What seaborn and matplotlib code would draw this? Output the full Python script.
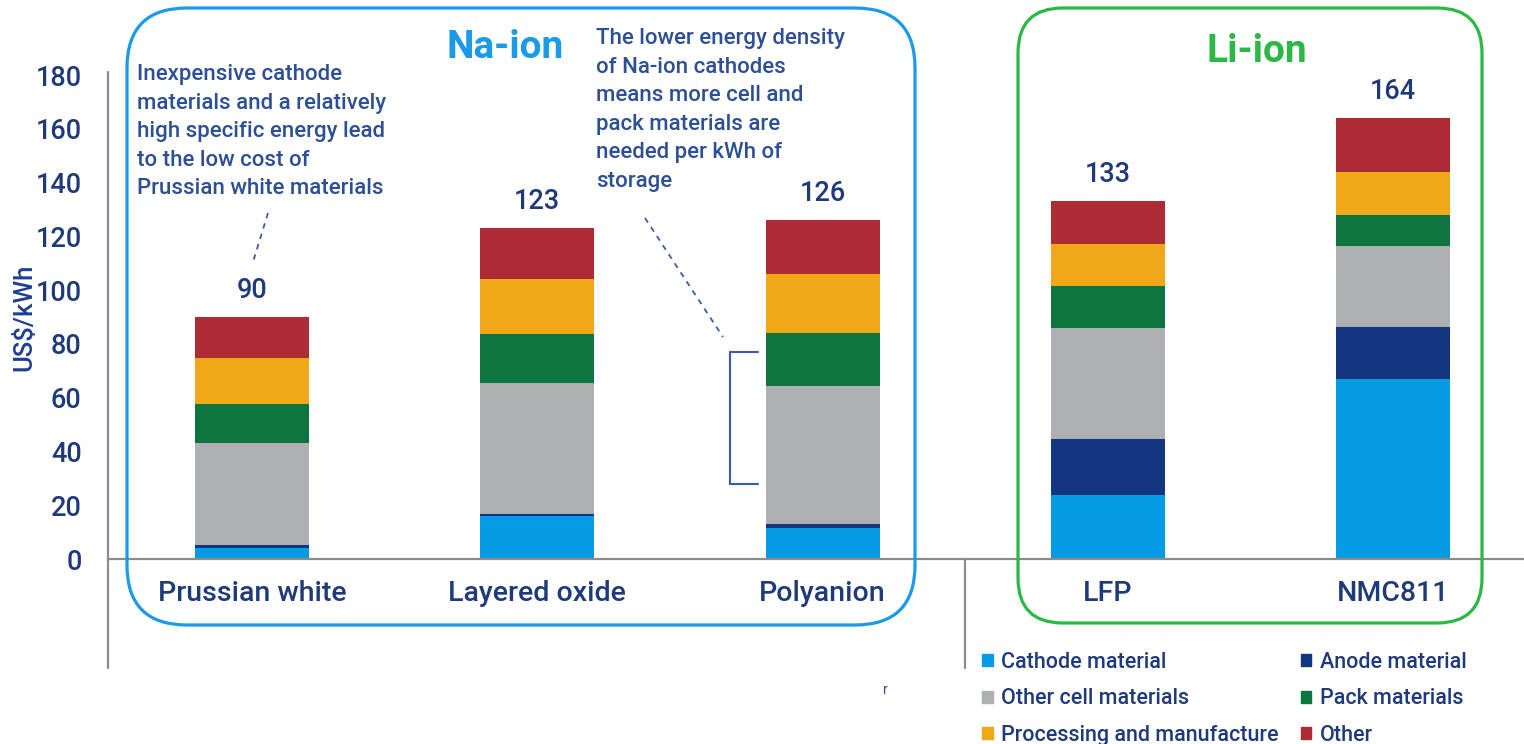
import matplotlib
matplotlib.use('Agg')
import matplotlib.pyplot as plt
from matplotlib.patches import FancyBboxPatch, Patch
from matplotlib.lines import Line2D

import numpy as np
import pandas as pd
import seaborn as sns

# cost breakdown in US$/kWh
chemistries = ['Prussian white', 'Layered oxide', 'Polyanion', 'LFP', 'NMC811']
components = ['Cathode material', 'Anode material', 'Other cell materials',
              'Pack materials', 'Processing and manufacture', 'Other']
cathode = [4.0, 16.0, 11.5, 23.8, 66.9]
anode = [1.2, 0.7, 1.5, 20.8, 19.3]
other_cell = [37.8, 48.8, 51.3, 41.4, 30.3]
pack = [14.6, 18.2, 19.9, 15.5, 11.4]
processing = [17.3, 20.4, 21.8, 15.6, 15.9]
other = [15.1, 18.9, 20.0, 15.9, 20.2]
totals = [90, 123, 126, 133, 164]
yticks = list(range(0, 181, 20))

note_pw = ['Inexpensive cathode', 'materials and a relatively',
           'high specific energy lead', 'to the low cost of',
           'Prussian white materials']
note_na = ['The lower energy density', 'of Na-ion cathodes',
           'means more cell and', 'pack materials are',
           'needed per kWh of', 'storage']

colors = ['#069be5', '#12357f', '#adafb2', '#0f7540', '#f0a718', '#ad2b34']

TXT = '#1f3a7a'
NOTE = '#2d4f96'
NA_BLUE = '#1a9ae8'
LI_GREEN = '#2cb845'
GREY = '#8c8c8c'

W, H, DPI = 1524, 744, 100


def px(x, y):
    """pixel (top-left origin) -> inches for dpi_scale_trans"""
    return x / DPI, (H - y) / DPI


def fig_line(fig, x0, y0, x1, y1, **kw):
    a, b = px(x0, y0)
    c, d = px(x1, y1)
    fig.add_artist(Line2D([a, c], [b, d], transform=fig.dpi_scale_trans, **kw))


def fig_text(fig, x, y, s, **kw):
    a, b = px(x, y)
    fig.text(a, b, s, transform=fig.dpi_scale_trans, **kw)


def note(fig, x, y, lines, step=28.6):
    # one text per line so each line keeps its own extent
    for k, line in enumerate(lines):
        fig_text(fig, x, y + k * step, line, ha='left', va='top', fontsize=16,
                 color=NOTE, fontweight='medium')


def round_box(fig, x0, y0, x1, y1, r, color):
    a, b = px(x0, y1)
    box = FancyBboxPatch((a, b), (x1 - x0) / DPI, (y1 - y0) / DPI,
                         boxstyle='round,pad=0,rounding_size={}'.format(r / DPI),
                         transform=fig.dpi_scale_trans, fill=False,
                         edgecolor=color, linewidth=2.3, zorder=5)
    fig.add_artist(box)


def main():
    sns.set_style('white')
    plt.rcParams['font.family'] = ['Roboto', 'DejaVu Sans']

    fig = plt.figure(figsize=(W / DPI, H / DPI), dpi=DPI)
    ax = fig.add_axes([108 / W, 1 - 559 / H, 1 - 108 / W, (559 - 75) / H])

    # stacked bars, one seaborn call per cost component
    series = [cathode, anode, other_cell, pack, processing, other]
    bottom = np.zeros(len(chemistries))
    for name, vals, col in zip(components, series, colors):
        sns.barplot(x=chemistries, y=vals, bottom=bottom, color=col, width=0.4,
                    saturation=1, label=name, linewidth=0, edgecolor='none', ax=ax)
        bottom = bottom + np.array(vals)

    # totals above the bars
    for i, t in enumerate(totals):
        ax.text(i, t + 10.0, str(t), ha='center', va='center', fontsize=19.5,
                color=TXT, fontweight='medium')

    ax.set_xlim(-0.505, 4.459)
    ax.set_ylim(0, 180)
    ax.set_yticks(yticks)
    ax.set_xlabel('')
    ax.set_ylabel('')
    for lab in ax.get_yticklabels():
        lab.set_fontsize(19.5)
        lab.set_color(TXT)
        lab.set_fontweight('medium')
    for lab in ax.get_xticklabels():
        lab.set_fontsize(20.5)
        lab.set_color(TXT)
        lab.set_fontweight('medium')
    ax.tick_params(axis='y', length=0, pad=19)
    ax.tick_params(axis='x', length=0, pad=15)
    for side in ['left', 'top', 'right']:
        ax.spines[side].set_visible(False)
    ax.spines['bottom'].set_color(GREY)
    ax.spines['bottom'].set_linewidth(1.6)
    ax.get_legend().remove()

    fig_text(fig, 24, 317, r'US\$/kWh', rotation=90, ha='center', va='center',
             fontsize=18.5, color='#1f3f8f', fontweight='medium')

    # category axis lines that run below the plot
    fig_line(fig, 108, 72, 108, 668, color=GREY, linewidth=1.6)
    fig_line(fig, 965, 559, 965, 668, color=GREY, linewidth=1.6)

    # group boxes
    round_box(fig, 127, 8, 915, 625, 60, NA_BLUE)
    round_box(fig, 1018, 8, 1482, 623, 45, LI_GREEN)
    fig_text(fig, 505, 48, 'Na-ion', ha='center', va='center', fontsize=28,
             fontweight='bold', color=NA_BLUE)
    fig_text(fig, 1257, 52, 'Li-ion', ha='center', va='center', fontsize=28,
             fontweight='bold', color=LI_GREEN)

    # notes
    note(fig, 137, 64, note_pw)
    note(fig, 596, 28, note_na)
    fig_line(fig, 268, 213, 253, 262, color='#3a5bab', linewidth=1.3,
             linestyle=(0, (3, 3)))
    fig_line(fig, 645, 218, 723, 337, color='#3a5bab', linewidth=1.3,
             linestyle=(0, (3, 3)))
    # bracket next to the polyanion bar
    fig_line(fig, 758, 352, 730, 352, color='#3a5bab', linewidth=1.5)
    fig_line(fig, 730, 352, 730, 484, color='#3a5bab', linewidth=1.5)
    fig_line(fig, 730, 484, 758, 484, color='#3a5bab', linewidth=1.5)

    fig_text(fig, 885, 690, 'r', ha='center', va='center', fontsize=10, color=NOTE)

    # legend, filled row by row like the original
    handles = [Patch(color=c) for c in colors]
    order = [0, 2, 4, 1, 3, 5]
    a, b = px(982, 652)
    fig.legend([handles[i] for i in order], [components[i] for i in order],
               loc='upper left', bbox_to_anchor=(a, b),
               bbox_transform=fig.dpi_scale_trans, ncol=2, frameon=False,
               prop={'size': 15.5, 'weight': 'medium'}, labelcolor=TXT,
               handlelength=0.5, handleheight=0.5,
               handletextpad=0.4, columnspacing=1.0, labelspacing=0.72,
               borderaxespad=0, borderpad=0)

    fig.savefig('out.png', dpi=DPI)


if __name__ == '__main__':
    main()
